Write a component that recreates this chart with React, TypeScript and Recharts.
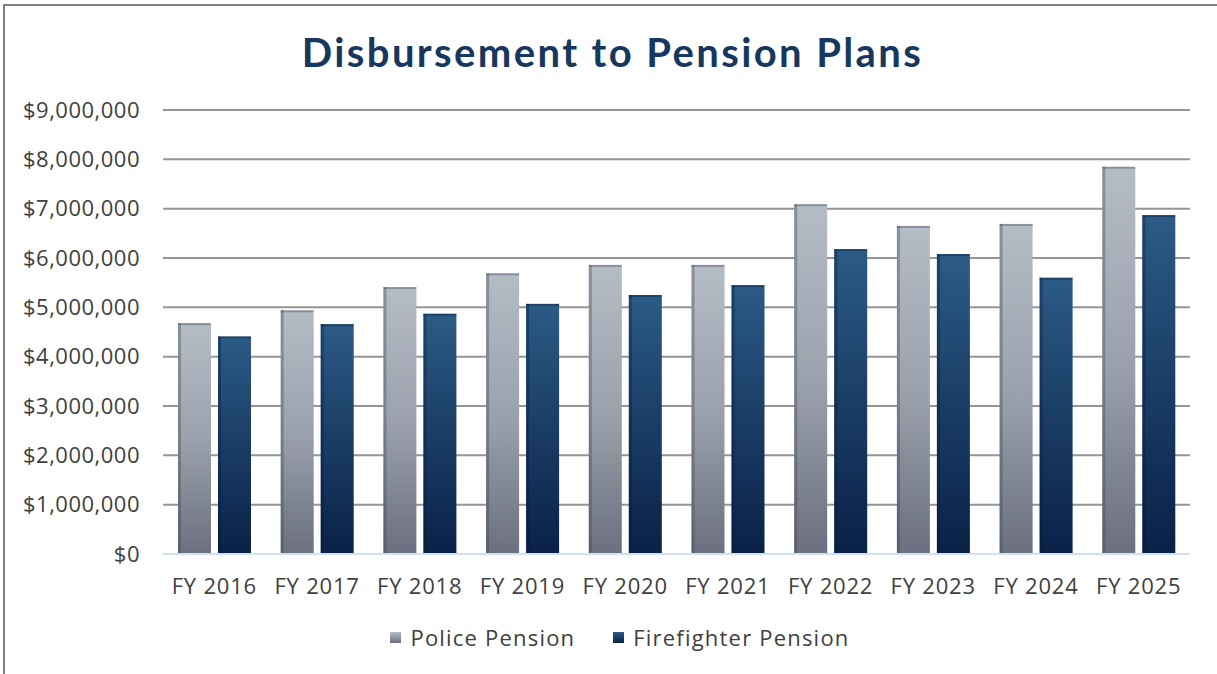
import React from "react";
import { BarChart, Bar, XAxis, YAxis, CartesianGrid } from "recharts";

const categories = ["FY 2016", "FY 2017", "FY 2018", "FY 2019", "FY 2020", "FY 2021", "FY 2022", "FY 2023", "FY 2024", "FY 2025"];
const policePension = [4680000, 4940000, 5410000, 5690000, 5860000, 5860000, 7090000, 6650000, 6690000, 7850000];
const firefighterPension = [4410000, 4660000, 4870000, 5070000, 5250000, 5450000, 6180000, 6080000, 5600000, 6870000];
const yTicks = [0, 1000000, 2000000, 3000000, 4000000, 5000000, 6000000, 7000000, 8000000, 9000000];

const data = categories.map((c, i) => ({ name: c, police: policePension[i], fire: firefighterPension[i] }));

const FONT = "'Open Sans', 'DejaVu Sans', sans-serif";
const TEXT = "#404040";

const fmt = (v: number) => "$" + v.toLocaleString("en-US");

const makeShape = (edge: string) => (props: any) => {
  const { x, y, width, height, fill } = props;
  if (!height || height <= 0) return <g />;
  return (
    <g>
      <rect x={x} y={y} width={width} height={height} fill={fill} />
      <rect x={x} y={y} width={3} height={height} fill={edge} opacity={0.35} />
      <rect x={x} y={y} width={width} height={2} fill={edge} opacity={0.35} />
    </g>
  );
};

const LegendBox = () => (
  <div style={{ position: "absolute", left: 0, top: 622, width: 1240, display: "flex", justifyContent: "center", fontFamily: FONT, fontSize: 22, color: TEXT, letterSpacing: 1.2 }}>
    <div style={{ display: "flex", alignItems: "center", marginRight: 38 }}>
      <div style={{ width: 11, height: 11, background: "linear-gradient(to bottom, #b4bcc6, #6b6f7f)", marginRight: 9 }} />
      <span>Police Pension</span>
    </div>
    <div style={{ display: "flex", alignItems: "center" }}>
      <div style={{ width: 11, height: 11, background: "linear-gradient(to bottom, #2b5b86, #0a2147)", marginRight: 9 }} />
      <span>Firefighter Pension</span>
    </div>
  </div>
);

export default function App() {
  return (
    <div style={{ position: "absolute", left: 0, top: 0, width: 1217, height: 674, background: "#fff", overflow: "hidden" }}>
      <div style={{ position: "absolute", left: 3, top: 4, width: 1230, height: 700, borderLeft: "2px solid #808080", borderTop: "2px solid #808080" }} />
      <div style={{ position: "absolute", left: 0, top: 28, width: 1225, textAlign: "center", fontFamily: "Lato, 'Open Sans', sans-serif", fontWeight: 700, fontSize: 40, letterSpacing: 2.4, color: "#17375e" }}>
        Disbursement to Pension Plans
      </div>
      <div style={{ position: "absolute", left: 0, top: 0 }}>
        <BarChart width={1217} height={674} data={data} margin={{ top: 110, right: 27, bottom: 90, left: 0 }} barCategoryGap={15} barGap={7}>
          <defs>
            <linearGradient id="gPolice" x1="0" y1="0" x2="0" y2="1">
              <stop offset="0%" stopColor="#b4bcc6" />
              <stop offset="50%" stopColor="#9ca2ad" />
              <stop offset="100%" stopColor="#6b6f7f" />
            </linearGradient>
            <linearGradient id="gFire" x1="0" y1="0" x2="0" y2="1">
              <stop offset="0%" stopColor="#2b5b86" />
              <stop offset="50%" stopColor="#1a3d66" />
              <stop offset="100%" stopColor="#0a2147" />
            </linearGradient>
          </defs>
          <CartesianGrid vertical={false} stroke="#959595" strokeWidth={2} />
          <XAxis dataKey="name" axisLine={{ stroke: "#cfe2f3", strokeWidth: 2 }} tickLine={false} tickSize={0} tickMargin={24}
            tick={{ fill: TEXT, fontSize: 22, fontFamily: FONT, letterSpacing: 0.8 }} interval={0} />
          <YAxis width={163} domain={[0, 9000000]} ticks={yTicks} tickFormatter={fmt} axisLine={false} tickLine={false} tickSize={0} tickMargin={23}
            tick={{ fill: TEXT, fontSize: 22, fontFamily: FONT, letterSpacing: 0.5 }} interval={0} />
          <Bar dataKey="police" fill="url(#gPolice)" barSize={33} isAnimationActive={false} shape={makeShape("#3a3f4c")} />
          <Bar dataKey="fire" fill="url(#gFire)" barSize={33} isAnimationActive={false} shape={makeShape("#061630")} />
        </BarChart>
      </div>
      <LegendBox />
    </div>
  );
}
